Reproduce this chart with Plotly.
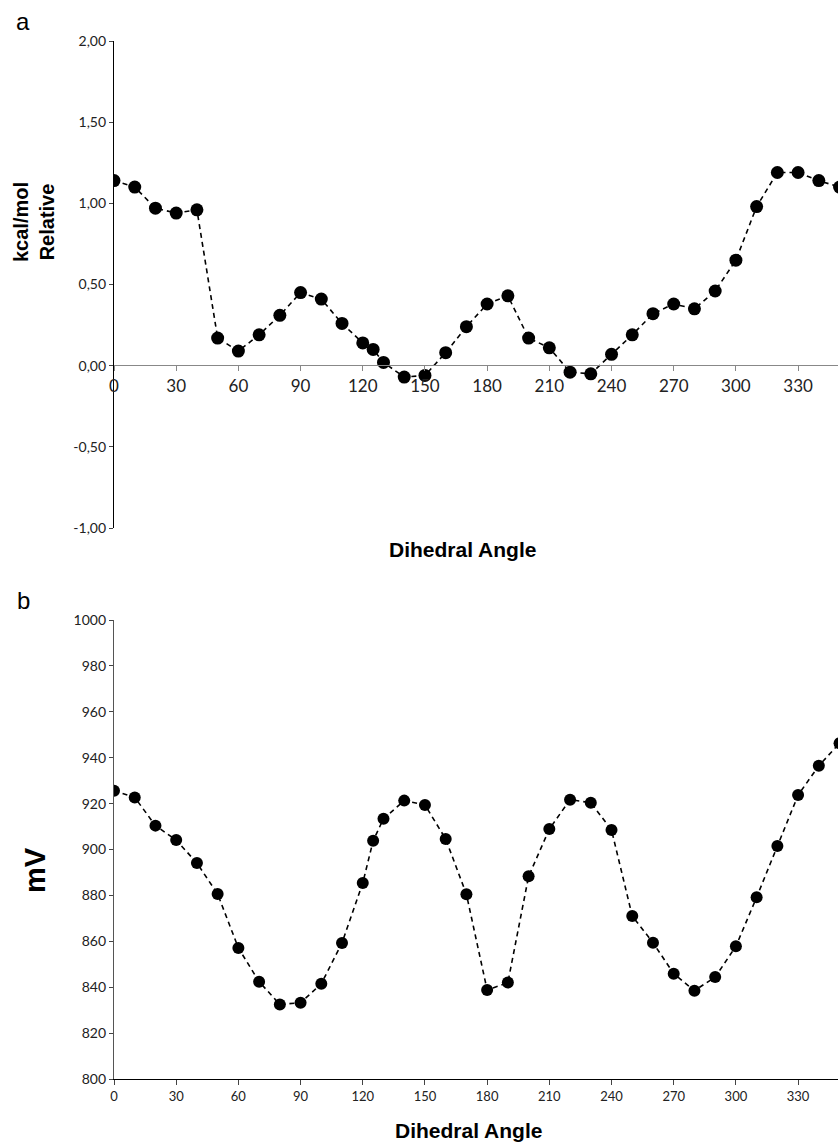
import plotly.graph_objects as go

W, H = 838, 1142

# ---- data ----
angles = [0, 10, 20, 30, 40, 50, 60, 70, 80, 90, 100, 110, 120, 125, 130, 140, 150, 160,
          170, 180, 190, 200, 210, 220, 230, 240, 250, 260, 270, 280, 290, 300, 310, 320,
          330, 340, 350]
energy_rel = [1.14, 1.10, 0.97, 0.94, 0.96, 0.17, 0.09, 0.19, 0.31, 0.45, 0.41, 0.26, 0.14,
              0.10, 0.02, -0.07, -0.06, 0.08, 0.24, 0.38, 0.43, 0.17, 0.11, -0.04, -0.05,
              0.07, 0.19, 0.32, 0.38, 0.35, 0.46, 0.65, 0.98, 1.19, 1.19, 1.14, 1.10]
potential_mv = [925.6, 922.7, 910.4, 904.1, 894.1, 880.6, 857.1, 842.4, 832.5, 833.2, 841.5,
                859.3, 885.4, 903.8, 913.4, 921.3, 919.4, 904.6, 880.5, 838.8, 842.0, 888.3,
                908.9, 921.7, 920.4, 908.5, 871.0, 859.4, 845.9, 838.5, 844.4, 857.8, 879.2,
                901.5, 923.7, 936.5, 946.3]

x_ticks = [0, 30, 60, 90, 120, 150, 180, 210, 240, 270, 300, 330, 360]
y1_ticks = [-1.0, -0.5, 0.0, 0.5, 1.0, 1.5, 2.0]
y1_labels = ["-1,00", "-0,50", "0,00", "0,50", "1,00", "1,50", "2,00"]
y2_ticks = [800, 820, 840, 860, 880, 900, 920, 940, 960, 980, 1000]

# ---- geometry helpers (pixel -> paper) ----
def px(x):
    return x / W

def py(y):
    return 1 - y / H

x_left = 114
x_max = (W - x_left) / 2.073  # visible angle range (figure cropped at right)

line_style = dict(color="black", width=1.6, dash="5px,4px")

fig = go.Figure()
fig.add_trace(go.Scatter(x=angles, y=energy_rel, mode="lines+markers",
                         line=line_style, marker=dict(size=13, color="black"),
                         xaxis="x", yaxis="y", showlegend=False))
fig.add_trace(go.Scatter(x=angles, y=potential_mv, mode="lines+markers",
                         line=line_style, marker=dict(size=12, color="black"),
                         xaxis="x2", yaxis="y2", showlegend=False))

tick_font_top_x = dict(family="Lato, Open Sans, sans-serif", size=17, color="#222")
tick_font_small = dict(family="Lato, Open Sans, sans-serif", size=14, color="#222")
tick_font_bottom_x = dict(family="Lato, Open Sans, sans-serif", size=13, color="#222")

fig.update_layout(
    width=W, height=H, autosize=False,
    margin=dict(l=0, r=0, t=0, b=0, pad=0, autoexpand=False),
    paper_bgcolor="white", plot_bgcolor="white",
    separators=", ",
    xaxis=dict(domain=[px(x_left), 1], range=[0, x_max], anchor="free",
               position=py(365), tickvals=x_ticks, ticks="outside", ticklen=5,
               tickcolor="#888", showline=True, linecolor="#888", linewidth=1.2,
               showgrid=False, zeroline=False, tickfont=tick_font_top_x, automargin=False),
    yaxis=dict(domain=[py(528), py(41)], range=[-1.0, 2.0], anchor="x",
               tickvals=y1_ticks, ticktext=y1_labels, ticks="outside", ticklen=4,
               tickcolor="#444", showline=True, linecolor="black", linewidth=1.2,
               showgrid=False, zeroline=False, tickfont=tick_font_small, automargin=False),
    xaxis2=dict(domain=[px(x_left), 1], range=[0, x_max], anchor="y2",
                tickvals=x_ticks, ticks="outside", ticklen=5, tickcolor="#444",
                showline=True, linecolor="black", linewidth=1.2,
                showgrid=False, zeroline=False, tickfont=tick_font_bottom_x, automargin=False),
    yaxis2=dict(domain=[py(1079), py(620)], range=[800, 1000], anchor="x2",
                tickvals=y2_ticks, ticks="outside", ticklen=4, tickcolor="#444",
                showline=True, linecolor="#555", linewidth=1.2,
                showgrid=False, zeroline=False, tickfont=tick_font_small, automargin=False),
)

title_font = dict(family="Liberation Sans, Arial, sans-serif", color="black")
annotations = [
    dict(text="a", x=px(23), y=py(22), font=dict(family="Liberation Sans, Arial", size=24, color="black")),
    dict(text="b", x=px(23), y=py(600), font=dict(family="Liberation Sans, Arial", size=24, color="black")),
    dict(text="<b>kcal/mol<br>Relative</b>", x=px(34), y=py(222), textangle=-90,
         font=dict(size=20, **title_font)),
    dict(text="<b>mV</b>", x=px(35), y=py(870), textangle=-90, font=dict(size=29, **title_font)),
    dict(text="<b>Dihedral Angle</b>", x=px(462), y=py(549), font=dict(size=21, **title_font)),
    dict(text="<b>Dihedral Angle</b>", x=px(468), y=py(1130), font=dict(size=21, **title_font)),
]
for a in annotations:
    a.update(xref="paper", yref="paper", showarrow=False, xanchor="center", yanchor="middle")
fig.update_layout(annotations=annotations)

fig.write_html("out.html")
